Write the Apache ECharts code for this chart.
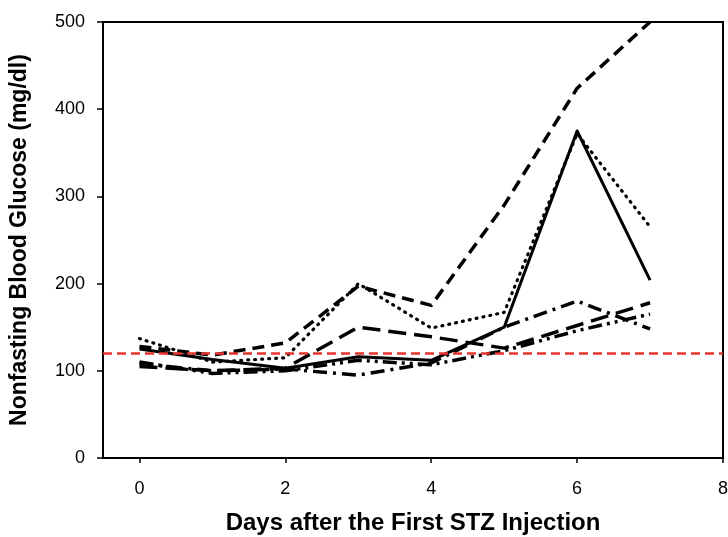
<!DOCTYPE html>
<html>
<head>
<meta charset="utf-8">
<script src="https://cdn.jsdelivr.net/npm/echarts@6/dist/echarts.min.js"></script>
<style>html,body{margin:0;padding:0;background:#fff;}#c{width:728px;height:537px;}</style>
</head>
<body>
<div id="c"></div>
<script>
const days = [0, 1, 2, 3, 4, 5, 6, 7];
const xTicks = [0, 2, 4, 6, 8];
const yTicks = [0, 100, 200, 300, 400, 500];
const threshold = 120;
const mouseSolid   = [125, 113, 103, 116, 112, 150, 375, 204];
const mouseDotted  = [137, 110, 115, 200, 149, 167, 372, 265];
const mouseDashed  = [128, 118, 132, 197, 175, 290, 424, 500];
const mouseLongDash = [105, 100, 103, 150, 139, 126, 152, 178];
const mouseDashDot = [108, 100, 102, 95, 109, 150, 180, 148];
const mouseDashDotDot = [110, 97, 100, 112, 107, 123, 146, 165];

const styles = [
  {data: mouseSolid, type: 'solid', w: 3},
  {data: mouseDotted, type: [1, 6], w: 3.2, cap: 'round'},
  {data: mouseDashed, type: [12, 7], w: 3.5},
  {data: mouseLongDash, type: [18, 8], w: 3.5},
  {data: mouseDashDot, type: [14, 6, 3, 6], w: 3.5},
  {data: mouseDashDotDot, type: [14, 5, 3, 5, 3, 5], w: 3.5}
];

const series = styles.map((s, i) => ({
  type: 'line',
  data: days.map((d, k) => [d, s.data[k]]),
  symbol: 'none',
  silent: true,
  z: 3,
  lineStyle: {color: '#000', width: s.w, type: s.type, cap: s.cap || 'butt', join: 'round'}
}));
series.push({
  type: 'line', data: [], silent: true,
  markLine: {
    silent: true, symbol: 'none', label: {show: false},
    lineStyle: {color: '#e8332f', width: 2.5, type: [9, 5]},
    data: [{yAxis: threshold}]
  }
});

const chart = echarts.init(document.getElementById('c'));
chart.setOption({
  animation: false,
  backgroundColor: '#fff',
  grid: {left: 103, right: 5, top: 22, bottom: 79, containLabel: false, outerBoundsMode: 'none', show: true, borderColor: '#000', borderWidth: 2, backgroundColor: 'transparent'},
  xAxis: {
    type: 'value', min: -0.5, max: 8,
    name: 'Days after the First STZ Injection', nameLocation: 'middle', nameGap: 53,
    nameTextStyle: {fontFamily: 'Liberation Sans', fontSize: 24, fontWeight: 'bold', color: '#000'},
    axisLine: {show: true, onZero: false, lineStyle: {color: '#000', width: 2}},
    axisTick: {show: true, inside: false, length: 5, lineStyle: {color: '#000', width: 1.5}, customValues: xTicks},
    axisLabel: {color: '#000', fontFamily: 'Liberation Sans', fontSize: 18, margin: 22, customValues: xTicks},
    splitLine: {show: false}
  },
  yAxis: {
    type: 'value', min: 0, max: 500, interval: 100,
    name: 'Nonfasting Blood Glucose (mg/dl)', nameLocation: 'middle', nameGap: 72, nameRotate: 90,
    nameTextStyle: {fontFamily: 'Liberation Sans', fontSize: 23, fontWeight: 'bold', color: '#000'},
    axisLine: {show: true, onZero: false, lineStyle: {color: '#000', width: 2}},
    axisTick: {show: true, inside: false, length: 6, lineStyle: {color: '#000', width: 1.5}, customValues: yTicks},
    axisLabel: {color: '#000', fontFamily: 'Liberation Sans', fontSize: 18, margin: 18, customValues: yTicks},
    splitLine: {show: false}
  },
  series: series
});
</script>
</body>
</html>
